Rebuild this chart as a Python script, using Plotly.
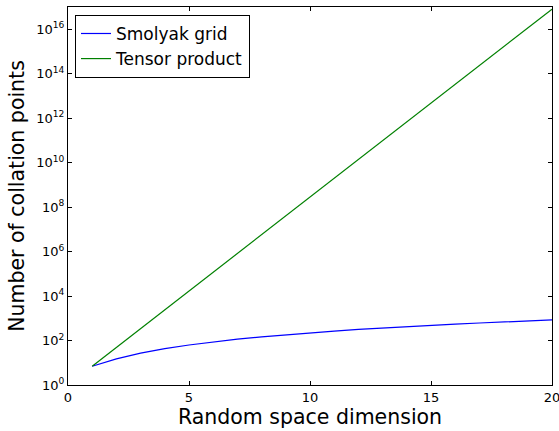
import plotly.graph_objects as go

dims = list(range(1, 21))
smolyak = [7, 15, 27, 43, 63, 87, 115, 147, 183, 223, 267, 315, 367, 423, 483, 547, 615, 687, 763, 843]
tensor = [7, 49, 343, 2401, 16807, 117649, 823543, 5764801, 40353607, 282475249,
          1977326743, 13841287201, 96889010407, 678223072849, 4747561509943,
          33232930569601, 232630513987207, 1628413597910449, 11398895185373143,
          79792266297612001]
y_exps = [0, 2, 4, 6, 8, 10, 12, 14, 16]
x_ticks = [0, 5, 10, 15, 20]

fig = go.Figure()
fig.add_trace(go.Scatter(x=dims, y=smolyak, mode="lines", name="Smolyak grid",
                         line=dict(color="#0000ff", width=1.2)))
fig.add_trace(go.Scatter(x=dims, y=tensor, mode="lines", name="Tensor product",
                         line=dict(color="#008000", width=1.2)))

font = "DejaVu Sans, sans-serif"
fig.update_layout(
    width=559, height=431,
    margin=dict(l=68, r=7, t=7, b=46, autoexpand=False),
    paper_bgcolor="white", plot_bgcolor="white",
    font=dict(family=font, color="black"),
    showlegend=True,
    legend=dict(x=0.0145, y=0.979, xanchor="left", yanchor="top",
                bordercolor="black", borderwidth=1, bgcolor="white",
                font=dict(size=17, family=font), itemwidth=30,
                tracegroupgap=0),
)
fig.update_xaxes(range=[0, 20], tickvals=x_ticks, ticktext=[str(v) for v in x_ticks],
                 ticks="inside", ticklen=4, tickcolor="black", mirror="ticks",
                 showline=True, linecolor="black", linewidth=1, showgrid=False,
                 zeroline=False, tickfont=dict(size=13), automargin=False,
                 ticklabeloverflow="allow",
                 title=dict(text="Random space dimension", font=dict(size=20.5), standoff=2))
fig.update_yaxes(type="log", range=[0, 17],
                 tickvals=[10 ** e for e in y_exps],
                 ticktext=["10<sup>%d</sup>" % e for e in y_exps],
                 ticks="inside", ticklen=4, tickcolor="black", mirror="ticks",
                 showline=True, linecolor="black", linewidth=1, showgrid=False,
                 zeroline=False, tickfont=dict(size=13), automargin=False,
                 ticklabeloverflow="allow",
                 title=dict(text="Number of collation points", font=dict(size=20.5), standoff=6))

fig.write_html("out.html", config={"displayModeBar": False},
               post_script="document.body.style.margin='0';document.body.style.padding='0';")
